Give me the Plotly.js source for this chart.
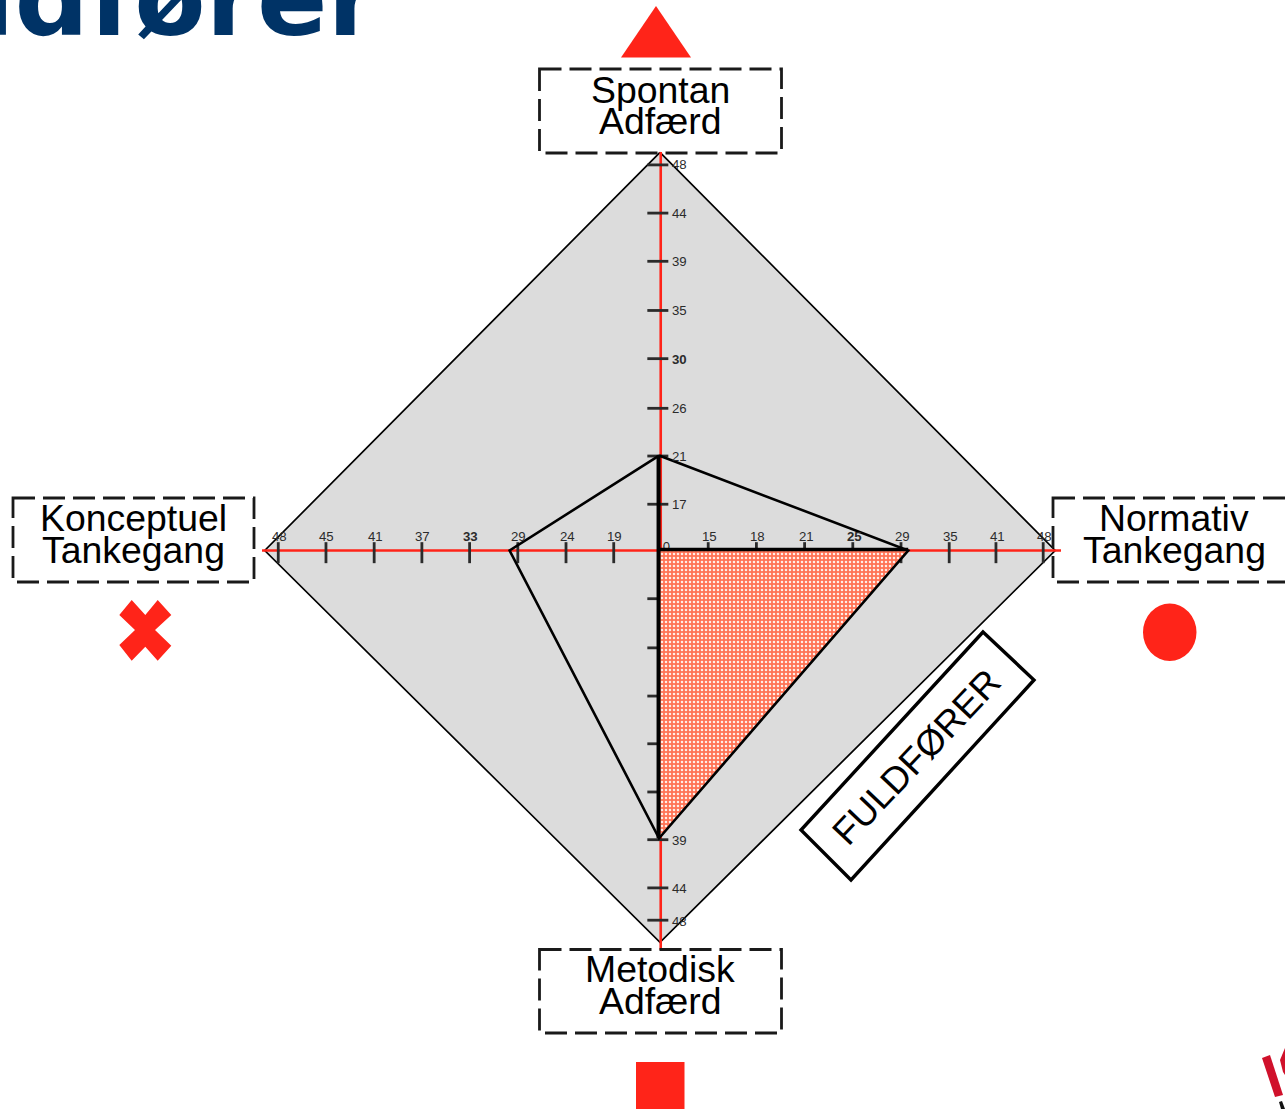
<!DOCTYPE html>
<html><head><meta charset="utf-8">
<script src="https://cdn.plot.ly/plotly-3.0.1.min.js"></script>
<style>html,body{margin:0;padding:0;background:#fff;overflow:hidden}</style>
</head><body><div id="chart" style="width:1285px;height:1109px"></div>
<script>
// ---- data ----
var topLabels    = ['17','21','26','30','35','39','44','48'];
var rightLabels  = ['15','18','21','25','29','35','41','48'];
var bottomLabels = ['','','','','','39','44','48'];
var leftLabels   = ['19','24','29','33','37','41','45','48'];
var topSteps    = [0.96,1.96,2.95,3.98,4.98,6,7,8];
var rightSteps  = [1,2,3,4,5,6,6.97,7.95];
var bottomSteps = [1,2.02,3.02,4.01,5.01,6,7,7.67];
var leftSteps   = [0.96,1.95,2.95,3.95,4.94,5.93,6.93,7.92];
var boldLabels = ['30','33','25'];
var profileSteps = {top:1.97, right:5.15, bottom:5.97, left:3.12};
var outerSteps   = {top:8.26, right:8.2, bottom:8.13, left:8.2};

// ---- frame: one step on an axis is 48.2 px ----
var W=1285,H=1109,cx=660,cy=550.5,U=48.2;
function X(p){return (p-cx)/U;}
function Y(p){return (cy-p)/U;}
function same(arr,v){return arr.map(function(){return v;});}
function neg(arr){return arr.map(function(v){return -v;});}

var traces=[];
// grey diamond
traces.push({x:[0,outerSteps.right,0,-outerSteps.left,0],y:[outerSteps.top,0,-outerSteps.bottom,0,outerSteps.top],
  mode:'lines',fill:'toself',fillcolor:'#dcdcdc',line:{color:'#000',width:1.7},hoverinfo:'skip'});
// red axes
traces.push({x:[X(262),X(1061)],y:[0,0],mode:'lines',line:{color:'#ff2419',width:2.6},hoverinfo:'skip'});
traces.push({x:[0.015,0.015],y:[Y(152),Y(950)],mode:'lines',line:{color:'#ff2419',width:2.6},hoverinfo:'skip'});
// ticks: marker centres sit slightly off the axis lines
var tickMarker=function(s){return {symbol:s,size:15,color:'#2b2b2b',line:{color:'#2b2b2b',width:2.8}};};
traces.push({x:same(topSteps,-0.045),y:topSteps,mode:'markers',marker:tickMarker('line-ew'),hoverinfo:'skip'});
traces.push({x:same(bottomSteps,-0.045),y:neg(bottomSteps),mode:'markers',marker:tickMarker('line-ew'),hoverinfo:'skip'});
traces.push({x:rightSteps,y:same(rightSteps,-0.045),mode:'markers',marker:tickMarker('line-ns'),hoverinfo:'skip'});
traces.push({x:neg(leftSteps),y:same(leftSteps,-0.045),mode:'markers',marker:tickMarker('line-ns'),hoverinfo:'skip'});
// origin label, partly hidden by what is drawn after it
traces.push({x:[X(666.5)],y:[Y(548)],mode:'text',text:['0'],textposition:'middle center',
  textfont:{family:'Liberation Sans, Arial, sans-serif',size:13.2,color:'#2b2b2b'},hoverinfo:'skip'});
// hatched quadrant
traces.push({x:[0,profileSteps.right,0,0],y:[0,0,-profileSteps.bottom,0],mode:'lines',fill:'toself',
  line:{width:0,color:'rgba(0,0,0,0)'},fillcolor:'#ff8066',
  fillpattern:{shape:'.',fgcolor:'#ffeee8',bgcolor:'#ff7355',size:4,solidity:0.32,fillmode:'replace'},hoverinfo:'skip'});
// profile
traces.push({x:[-0.02,profileSteps.right,-0.02,-profileSteps.left,-0.02],y:[profileSteps.top,0,-profileSteps.bottom,0,profileSteps.top],
  mode:'lines',line:{color:'#000',width:2.6},hoverinfo:'skip'});
traces.push({x:[-0.03,-0.03],y:[profileSteps.top,-profileSteps.bottom],mode:'lines',line:{color:'#000',width:4},hoverinfo:'skip'});
traces.push({x:[-0.03,profileSteps.right],y:[0.02,0.02],mode:'lines',line:{color:'#000',width:3.4},hoverinfo:'skip'});

// annotations
var ann=[];
function lab(t,px,py,size,opts){
  var a={x:X(px),y:Y(py),xref:'x',yref:'y',text:t,showarrow:false,font:{family:'Liberation Sans, Arial, sans-serif',size:size,color:'#000'},xanchor:'center',yanchor:'middle',align:'center',borderpad:0};
  for(var k in opts)a[k]=opts[k];ann.push(a);
}
function tickLab(t,xv,yv,xs,ys,anc){
  if(!t)return;
  var bold=boldLabels.indexOf(t)>=0;
  ann.push({x:xv,y:yv,xref:'x',yref:'y',text:bold?'<b>'+t+'</b>':t,showarrow:false,xshift:xs,yshift:ys,xanchor:anc,yanchor:'middle',
    font:{family:'Liberation Sans, Arial, sans-serif',size:13.2,color:'#2b2b2b'}});
}
topLabels.forEach(function(t,i){tickLab(t,0,topSteps[i],10,t==='30'?-1:0,'left');});
bottomLabels.forEach(function(t,i){tickLab(t,0,-bottomSteps[i],10,-1,'left');});
rightLabels.forEach(function(t,i){tickLab(t,rightSteps[i],0,1.5,14,'center');});
leftLabels.forEach(function(t,i){tickLab(t,-leftSteps[i],0,1,14,'center');});

var big=37.4;
lab('Spontan',660.5,89.5,big);lab('Adfærd',660.5,120.5,big);
lab('Metodisk',660,969,big);lab('Adfærd',660.5,1001,big);
lab('Konceptuel',133,518,big);lab('Tankegang',133,550,big);
lab('Normativ',1174,518,big);lab('Tankegang',1174,550,big);
lab('FULDFØRER',916,757,36.8,{textangle:-46.5});
// title, cut by the page edge
ann.push({x:X(381),y:Y(62),xref:'x',yref:'y',text:'Fuldfører',showarrow:false,xanchor:'right',yanchor:'bottom',
  font:{family:'DejaVu Sans, sans-serif',size:104,color:'#003366',weight:700}});

// boxes and symbols
var dash={color:'#1a1a1a',width:2.8,dash:'22px,8px'};
function box(x0,y0,x1,y1){return {type:'rect',xref:'x',yref:'y',x0:X(x0),x1:X(x1),y0:Y(y0),y1:Y(y1),line:dash,fillcolor:'rgba(0,0,0,0)',layer:'above'};}
var shapes=[box(539.5,69,781.5,153),box(539.5,949.5,781.5,1033),box(13,498,254,582),box(1053,498,1294,582)];
function poly(pts,color,width,fill){
  var s='M'+pts.map(function(p){return X(p[0])+','+Y(p[1]);}).join('L')+'Z';
  return {type:'path',xref:'x',yref:'y',path:s,line:{color:color,width:width},fillcolor:fill,layer:'above'};
}
var none='rgba(0,0,0,0)',red='#ff2419';
shapes.push(poly([[983,632],[1034,680],[851,880],[801,830]],'#000',3.4,'rgba(255,255,255,0)'));
shapes.push(poly([[656,6],[691,57.5],[621,57.5]],none,0,red));
shapes.push(poly([[131.7,600],[145.3,615],[157.7,600],[171.3,615],[155,630],[171.3,645.7],[157.7,660.7],[145.3,646.7],[131.7,660.7],[119.3,645],[135,630],[119.3,615]],none,0,red));
shapes.push({type:'circle',xref:'x',yref:'y',x0:X(1143),x1:X(1196.5),y0:Y(603.5),y1:Y(661),line:{width:0,color:none},fillcolor:red,layer:'above'});
shapes.push(poly([[636,1062],[684.5,1062],[684.5,1109],[636,1109]],none,0,red));
// logo fragment at the corner
shapes.push(poly([[1262,1058],[1270,1055],[1283,1095],[1275,1097]],none,0,'#d0112b'));
shapes.push(poly([[1280,1060],[1285,1048],[1285,1075],[1283,1072]],none,0,'#d0112b'));
shapes.push(poly([[1279,1102],[1282,1101],[1285,1109],[1281,1109]],none,0,'#111'));

var layout={width:W,height:H,margin:{l:0,r:0,t:0,b:0},showlegend:false,paper_bgcolor:'#fff',plot_bgcolor:'#fff',
  xaxis:{range:[X(0),X(W)],visible:false,fixedrange:true},
  yaxis:{range:[Y(H),Y(0)],visible:false,fixedrange:true},
  annotations:ann,shapes:shapes};
Plotly.newPlot('chart',traces,layout,{displayModeBar:false,staticPlot:true});
</script></body></html>
